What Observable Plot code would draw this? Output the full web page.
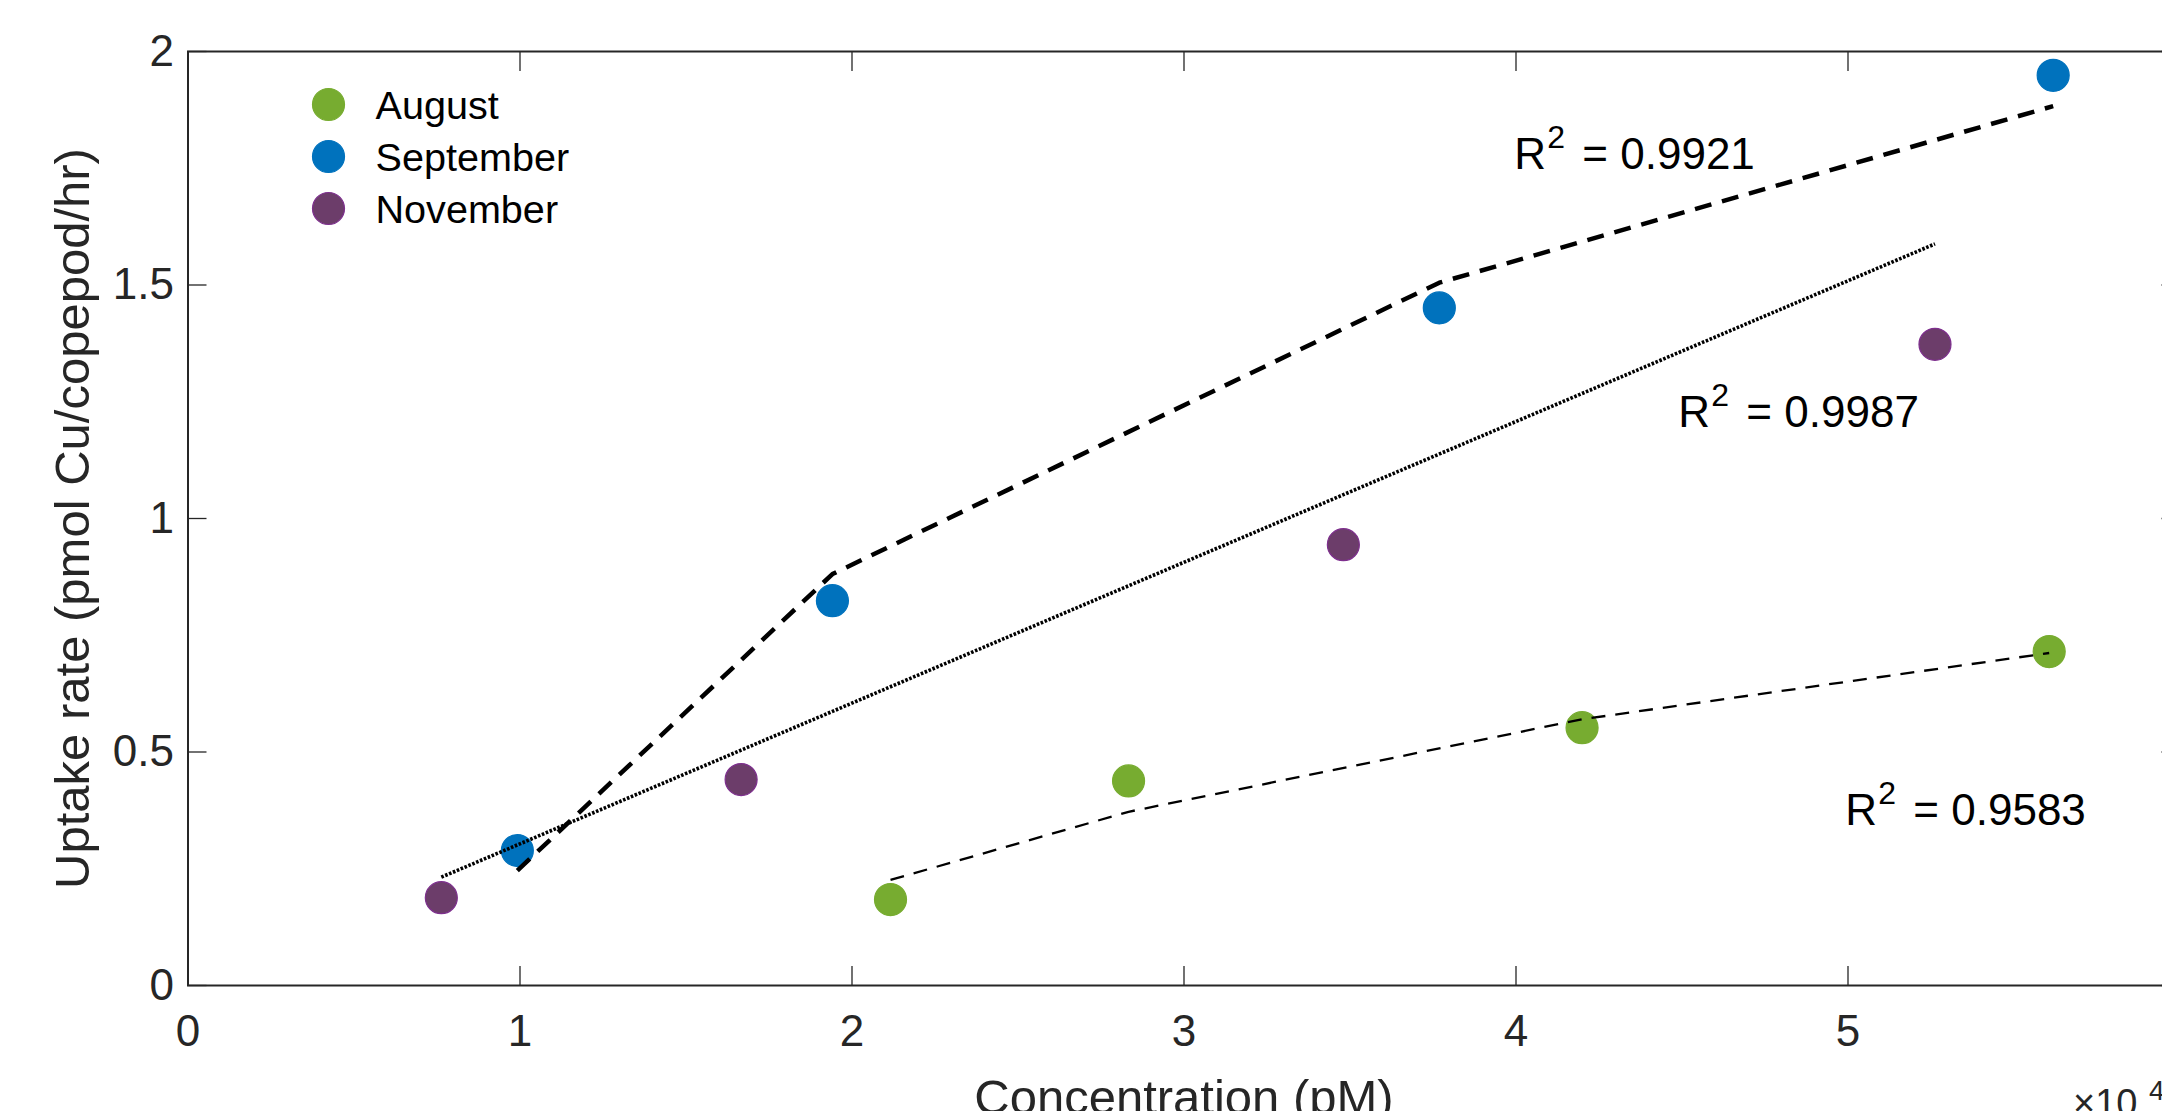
<!DOCTYPE html>
<html><head><meta charset="utf-8">
<script src="https://cdn.jsdelivr.net/npm/d3@7"></script>
<script src="https://cdn.jsdelivr.net/npm/@observablehq/plot@0.6"></script>
<style>
html,body{margin:0;padding:0;background:#fff;overflow:hidden;}
#wrap{width:2162px;height:1111px;overflow:hidden;position:relative;background:#fff;}
#wrap svg{max-width:none !important;}
</style></head><body><div id="wrap"></div>
<script>
// ---- data (x in units of 10^4 pM) ----
const months = ["August", "September", "November"];
const monthFill = ["#77AC30", "#0072BD", "#6C3D6A"];
const monthEdge = ["#77AC30", "#0072BD", "#7E2F8E"];

const augX = [2.116, 2.833, 4.199, 5.606];
const augY = [0.184, 0.438, 0.552, 0.715];
const sepX = [0.992, 1.941, 3.769, 5.618];
const sepY = [0.289, 0.824, 1.451, 1.949];
const novX = [0.763, 1.666, 3.480, 5.262];
const novY = [0.188, 0.441, 0.944, 1.373];

// fitted curves, evaluated at each month's concentrations
const augFitY = [0.226, 0.372, 0.570, 0.712];
const sepFitY = [0.246, 0.881, 1.505, 1.883];
const novFitY = [0.232, 0.504, 1.051, 1.588];

const r2Values = ["0.9921", "0.9987", "0.9583"];
const r2X = [3.995, 4.489, 4.992];
const r2Y = [1.749, 1.197, 0.343];

const xTicks = [0, 1, 2, 3, 4, 5, 6];
const xTickLabels = [0, 1, 2, 3, 4, 5];
const yTicks = [0, 0.5, 1, 1.5, 2];
const xLabel = "Concentration (pM)";
const yLabel = "Uptake rate (pmol Cu/copepod/hr)";
const xExponent = "4";

// ---- build tables ----
const seriesX = [augX, sepX, novX];
const seriesY = [augY, sepY, novY];
const fitY = [augFitY, sepFitY, novFitY];
const points = [];
months.forEach((m, k) => seriesX[k].forEach((x, i) => points.push({month: m, k, x, y: seriesY[k][i]})));
const fits = months.map((m, k) => seriesX[k].map((x, i) => ({x, y: fitY[k][i]})));

const FONT = '"Liberation Sans", Arial, Helvetica, sans-serif';
const INK = "#262626";
const fitStyles = [
  {strokeWidth: 2.3, strokeDasharray: "14,10"},
  {strokeWidth: 4.5, strokeDasharray: "17,11"},
  {strokeWidth: 3.6, strokeDasharray: "2.6,1.6"}
];

const marks = [];
// axes: inward ticks on all four sides
marks.push(Plot.axisX({ticks: xTicks, anchor: "bottom", tickSize: -19, fill: "none", stroke: INK, strokeWidth: 1.3, label: null}));
marks.push(Plot.axisX({ticks: xTicks, anchor: "top", tickSize: -19, fill: "none", stroke: INK, strokeWidth: 1.3, label: null}));
marks.push(Plot.axisY({ticks: yTicks, anchor: "left", tickSize: -19, fill: "none", stroke: INK, strokeWidth: 1.3, label: null}));
marks.push(Plot.axisY({ticks: yTicks, anchor: "right", tickSize: -19, fill: "none", stroke: INK, strokeWidth: 1.3, label: null}));
marks.push(Plot.axisX({ticks: xTickLabels, anchor: "bottom", tickSize: 0, tickPadding: 29, fontSize: 44, fill: INK, label: null, tickFormat: d => String(d)}));
marks.push(Plot.axisY({ticks: yTicks, anchor: "left", tickSize: 0, tickPadding: 14, fontSize: 44, fill: INK, label: null, tickFormat: d => String(d)}));
marks.push(Plot.frame({stroke: INK, strokeWidth: 2}));

// points
marks.push(Plot.dot(points, {x: "x", y: "y", r: 16, fill: d => monthFill[d.k], stroke: d => monthEdge[d.k], strokeWidth: 1.2}));
// fit lines
fits.forEach((f, k) => marks.push(Plot.line(f, {x: "x", y: "y", stroke: "#000", strokeLinecap: "butt", strokeLinejoin: "miter", ...fitStyles[k]})));

// R^2 annotations
r2Values.forEach((v, i) => {
  const d = [{x: r2X[i], y: r2Y[i]}];
  marks.push(Plot.text(d, {x: "x", y: "y", text: () => "R", textAnchor: "start", lineAnchor: "bottom", fontSize: 44, fill: "#000"}));
  marks.push(Plot.text(d, {x: "x", y: "y", text: () => "2", textAnchor: "start", lineAnchor: "bottom", fontSize: 32, dx: 33, dy: -21, fill: "#000"}));
  marks.push(Plot.text(d, {x: "x", y: "y", text: () => "= " + v, textAnchor: "start", lineAnchor: "bottom", fontSize: 44, dx: 68, fill: "#000"}));
});

// legend
months.forEach((m, i) => {
  marks.push(Plot.dot([m], {frameAnchor: "top-left", dx: 140.5, dy: 53 + 52 * i, r: 16, fill: monthFill[i], stroke: monthEdge[i], strokeWidth: 1.2}));
  marks.push(Plot.text([m], {frameAnchor: "top-left", dx: 187.5, dy: 55 + 52 * i, text: d => d, textAnchor: "start", lineAnchor: "middle", fontSize: 39.6, fill: "#000"}));
});

// axis titles
marks.push(Plot.text([xLabel], {frameAnchor: "bottom", text: d => d, dy: 128, textAnchor: "middle", lineAnchor: "bottom", fontSize: 49, fill: INK}));
marks.push(Plot.text([yLabel], {frameAnchor: "left", text: d => d, dx: -99, rotate: -90, textAnchor: "middle", lineAnchor: "bottom", fontSize: 49, fill: INK}));
// x exponent
marks.push(Plot.text(["\u00d710"], {frameAnchor: "bottom-right", text: d => d, dx: -107, dy: 130, textAnchor: "start", lineAnchor: "bottom", fontSize: 38, fill: INK}));
marks.push(Plot.text([xExponent], {frameAnchor: "bottom-right", text: d => d, dx: -31, dy: 114, textAnchor: "start", lineAnchor: "bottom", fontSize: 28, fill: INK}));

const chart = Plot.plot({
  width: 2200, height: 1130,
  marginLeft: 187.5, marginRight: 20.5, marginTop: 51, marginBottom: 145,
  x: {domain: [0, 6]},
  y: {domain: [0, 2]},
  style: {fontFamily: FONT, background: "white", overflow: "visible", maxWidth: "none"},
  marks
});
document.getElementById("wrap").appendChild(chart);
</script></body></html>
